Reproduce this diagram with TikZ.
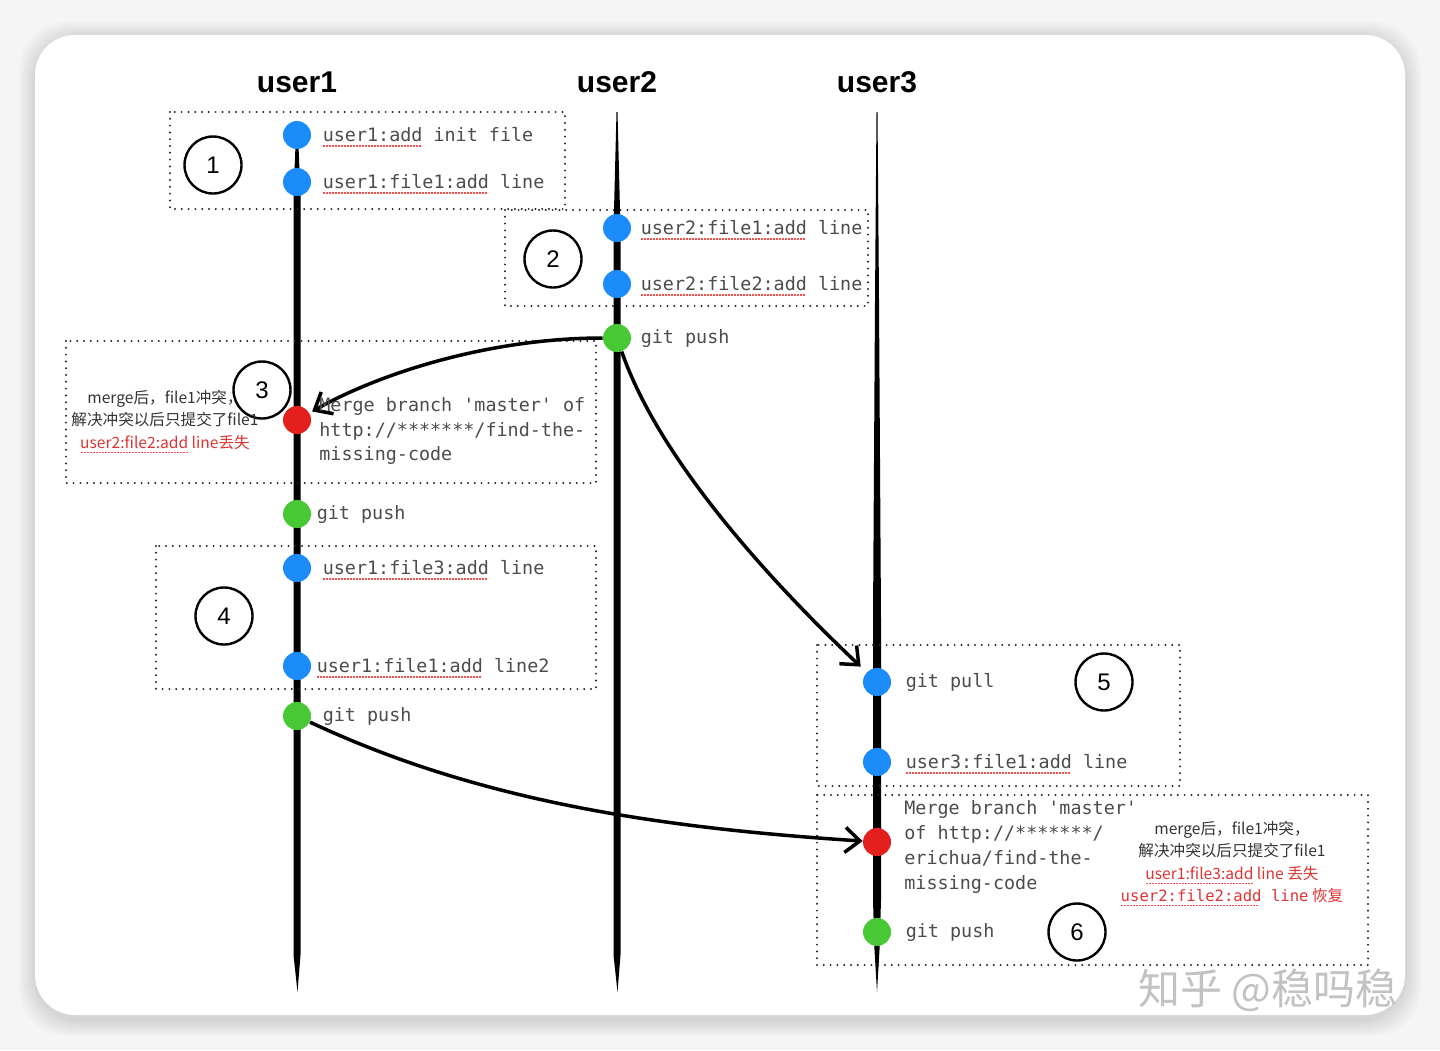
\documentclass[tikz,border=0pt]{standalone}
\usepackage{fontspec}
\setmainfont{Liberation Sans}
\setmonofont{DejaVu Sans Mono}
\newfontfamily\cjk{Noto Sans CJK SC}
\usetikzlibrary{arrows.meta,positioning}
\definecolor{cmtblue}{RGB}{28,140,250}
\definecolor{cmtgreen}{RGB}{72,200,52}
\definecolor{cmtred}{RGB}{228,32,30}
\definecolor{notered}{RGB}{222,52,52}
% red spell-check squiggle under a word
\newsavebox\sqbox
\newcommand\squig[1]{\sbox\sqbox{#1}\rlap{\raisebox{-2.4pt}[0pt][0pt]{\color{red!70}%
  \hbox to\wd\sqbox{\leaders\hbox to1.5pt{\hss\rule{1pt}{.65pt}\hss}\hfil}}}\usebox\sqbox}
\tikzset{
  cmt/.style={circle,minimum size=14pt,inner sep=0pt},
  cb/.style={cmt,fill=cmtblue},
  cg/.style={cmt,fill=cmtgreen},
  cr/.style={cmt,fill=cmtred},
  num/.style={circle,draw=black,line width=1.2pt,minimum size=28.5pt,inner sep=0pt,font=\fontsize{12}{12}\selectfont},
  grp/.style={draw=black!85,line width=1.1pt,dash pattern=on 0pt off 3.4pt,line cap=round},
  msg/.style={font=\fontsize{9.2}{12.4}\ttfamily\selectfont,text=black!70,align=left,inner sep=0pt},
  note/.style={font=\cjk\fontsize{7.8}{11.2}\selectfont,text=black!80,align=center,inner sep=0pt},
  hd/.style={font=\fontsize{15}{15}\bfseries\selectfont},
  flow/.style={draw=black,line width=1.75pt,-{Straight Barb[length=2.6mm,width=4.4mm]}},
}

\begin{document}
\begin{tikzpicture}[x=0.5pt,y=-0.5pt]
\useasboundingbox (0,0) rectangle (1440,1050);
% card on a grey page
\fill[black!4] (0,0) rectangle (1440,1050);
\foreach \d in {2,4,...,16}
  \fill[black,opacity=.016,rounded corners=24pt] (35-\d,38-\d) rectangle (1405+\d,1020+\d);
\fill[white,rounded corners=20pt] (35,35) rectangle (1405,1015);
% one lane per user
\foreach \x/\n in {297/1,617/2,877/3}
  \node[hd] (h\n) at (\x,82) {user\n};
\fill (296,133) -- (298,133) -- (300.5,195) -- (300.5,955) -- (297.5,992)
  -- (293.5,955) -- (293.5,195) -- cycle;
\fill (616.5,112) -- (617.5,112) -- (620.5,230) -- (620.5,955) -- (617.5,992)
  -- (613.5,955) -- (613.5,230) -- cycle;
\fill (876.5,112) -- (877.5,112) -- (879,300) -- (881,620) -- (881,900)
  -- (879.5,950) -- (877,992) -- (874.5,950) -- (873,900) -- (873,620)
  -- (875,300) -- cycle;
% the six steps
\draw[grp] (170,112) rectangle (565,209);
\draw[grp] (505,210) rectangle (868,306);
\draw[grp] (66,341) rectangle (596,483);
\draw[grp] (156,546) rectangle (596,689);
\draw[grp] (817,645) rectangle (1180,786);
\draw[grp] (817,795) rectangle (1368,965);
\node[num] (n1) at (213,165) {1};
\node[num] (n2) at (553,259) {2};
\node[num] (n3) at (262,390) {3};
\node[num] (n4) at (224,616) {4};
\node[num] (n5) at (1104,682) {5};
\node[num] (n6) at (1077,932) {6};
% commits
\node[cb] (c1) at (297,135) {};
\node[cb] (c2) at (297,182) {};
\node[cb] (c3) at (617,228) {};
\node[cb] (c4) at (617,284) {};
\node[cg] (c5) at (617,338) {};
\node[cr] (c6) at (297,420) {};
\node[cg] (c7) at (297,514) {};
\node[cb] (c8) at (297,568) {};
\node[cb] (c9) at (297,666) {};
\node[cg] (c10) at (297,716) {};
\node[cb] (c11) at (877,682) {};
\node[cb] (c12) at (877,762) {};
\node[cr] (c13) at (877,842) {};
\node[cg] (c14) at (877,932) {};
% push -> merge / pull
\draw[flow,shorten >=1.5pt] (c5) .. controls +(-125,0) and +(85,-48) .. (c6);
\draw[flow,shorten >=4pt] (c5) .. controls +(45,130) and +(-90,-85) .. (c11);
\draw[flow] (c10) .. controls +(183,86) and +(-215,-14) .. (c13);
% commit messages
\node[msg,right=5.5pt of c1] (m1) {\squig{user1:add} init file};
\node[msg,right=5.5pt of c2] (m2) {\squig{user1:file1:add} line};
\node[msg,right=4.5pt of c3] (m3) {\squig{user2:file1:add} line};
\node[msg,right=4.5pt of c4] (m4) {\squig{user2:file2:add} line};
\node[msg,right=4.5pt of c5] (m5) {git push};
\node[msg,anchor=west] (m6) at (319,431)
  {Merge branch 'master' of\\http://*******/find-the-\\missing-code};
\node[msg,right=2.5pt of c7] (m7) {git push};
\node[msg,right=5.5pt of c8] (m8) {\squig{user1:file3:add} line};
\node[msg,right=2.5pt of c9] (m9) {\squig{user1:file1:add} line2};
\node[msg,right=5.5pt of c10] (m10) {git push};
\node[msg,right=7pt of c11] (m11) {git pull};
\node[msg,right=7pt of c12] (m12) {\squig{user3:file1:add} line};
\node[msg,anchor=west] (m13) at (904,847)
  {Merge branch 'master'\\of http://*******/\\erichua/find-the-\\missing-code};
\node[msg,right=7pt of c14] (m14) {git push};
% conflict notes
\node[note] (t3) at (165,420) {merge后，file1冲突，\\解决冲突以后只提交了file1\\
  {\color{notered}\squig{user2:file2:add} line丢失}};
\node[note] (t6) at (1232,862) {merge后，file1冲突，\\解决冲突以后只提交了file1\\
  {\color{notered}\squig{user1:file3:add} line 丢失}\\
  {\color{notered}{\ttfamily\squig{user2:file2:add} line} 恢复}};
\node[font=\cjk\fontsize{21}{21}\selectfont,text=black!24] (wm) at (1268,990) {知乎 @稳吗稳};
\end{tikzpicture}
\end{document}
